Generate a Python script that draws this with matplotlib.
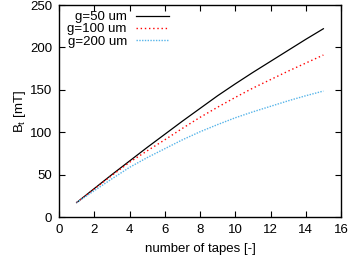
import matplotlib
matplotlib.use("Agg")
import matplotlib.pyplot as plt

plt.rcParams['font.family'] = ['Liberation Sans', 'DejaVu Sans']
plt.rcParams['mathtext.fontset'] = 'custom'
plt.rcParams['mathtext.rm'] = 'Liberation Sans'
plt.rcParams['mathtext.it'] = 'Liberation Sans'

tapes = [1, 2, 3, 4, 5, 6, 7, 8, 9, 10, 11, 12, 13, 14, 15]
b_g50 = [17, 33.5, 50, 66, 82, 97.5, 113, 128, 143, 157, 170.5, 183.5, 196.5, 209.5, 222]
b_g100 = [17, 33, 49, 64.5, 78, 91, 104.5, 117.5, 129.5, 141, 152, 162, 172, 181.5, 191]
b_g200 = [17, 31, 45, 58.5, 70, 80.5, 91, 100.5, 109, 117, 124, 130.5, 137, 143, 148.5]
labels = ["g=50 um", "g=100 um", "g=200 um"]

FS = 9.5

fig = plt.figure(figsize=(3.5, 2.56), dpi=100)
ax = fig.add_axes([59/350, 1-217/256, (341-59)/350, (217-5)/256])

ax.plot(tapes, b_g50, color='black', lw=0.9, label=labels[0])
ax.plot(tapes, b_g100, color='#ff0000', lw=1.0, ls=(0, (1, 2)), label=labels[1])
ax.plot(tapes, b_g200, color='#56b4e9', lw=1.0, ls=(0, (1, 1)), label=labels[2])

ax.set_xlim(0, 16)
ax.set_ylim(0, 250)
ax.set_xticks(range(0, 17, 2))
ax.set_yticks(range(0, 251, 50))
ax.tick_params(direction='in', top=True, right=True, length=4, width=0.8, labelsize=FS, pad=5)
for s in ax.spines.values():
    s.set_linewidth(1.0)

ax.set_xlabel("number of tapes [-]", fontsize=FS, labelpad=5)
ax.set_ylabel("B$_t$ [mT]", fontsize=FS, labelpad=1)

leg = fig.legend(*ax.get_legend_handles_labels(), loc='upper right',
                 bbox_to_anchor=(169/350, 1 - 11/256), frameon=False,
                 markerfirst=False, fontsize=FS, handlelength=2.5, handletextpad=0.7,
                 labelspacing=0.0, borderpad=0.0, borderaxespad=0.0)

fig.savefig("out.png", dpi=100)
